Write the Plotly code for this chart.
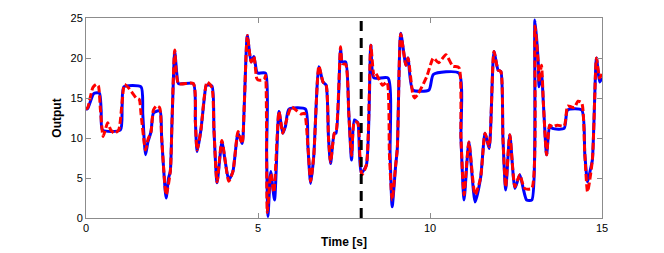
import plotly.graph_objects as go

# Reference signal (blue, solid)
t_ref = [0.0, 0.05, 0.2, 0.25, 0.39, 0.44, 0.48, 1.0, 1.05, 1.1, 1.6, 1.65, 1.73, 1.8, 1.89,
         1.96, 2.1, 2.16, 2.2, 2.33, 2.4, 2.45, 2.5, 2.58, 2.64, 2.69, 3.12, 3.18, 3.23, 3.34,
         3.44, 3.5, 3.66, 3.72, 3.81, 3.95, 4.05, 4.15, 4.27, 4.42, 4.54, 4.6, 4.69, 4.8, 4.88,
         4.96, 5.0, 5.22, 5.25, 5.29, 5.37, 5.48, 5.61, 5.72, 5.8, 5.9, 6.38, 6.45, 6.53, 6.62,
         6.77, 6.89, 6.98, 7.05, 7.11, 7.22, 7.27, 7.4, 7.45, 7.55, 7.64, 7.72, 7.8, 7.9, 7.95,
         8.0, 8.15, 8.28, 8.37, 8.78, 8.84, 8.9, 9.0, 9.05, 9.15, 9.3, 9.36, 9.5, 9.97, 10.1,
         10.84, 10.9, 10.99, 11.13, 11.31, 11.47, 11.6, 11.72, 11.86, 11.98, 12.06, 12.12, 12.2,
         12.32, 12.47, 12.61, 12.72, 12.81, 12.96, 13.05, 13.15, 13.17, 13.24, 13.3, 13.39,
         13.48, 13.56, 13.9, 14.0, 14.41, 14.5, 14.58, 14.66, 14.72, 14.84, 14.93, 15.0]
y_ref = [13.6, 13.7, 15.4, 15.6, 15.6, 13.5, 11.0, 11.0, 14.0, 16.4, 16.4, 13.0, 7.9, 9.5, 10.8,
         13.1, 13.4, 13.3, 10.0, 2.5, 5.0, 5.8, 12.0, 20.8, 18.0, 16.8, 16.8, 12.0, 8.3, 11.0,
         15.0, 16.6, 16.5, 11.0, 4.4, 9.5, 7.0, 4.75, 5.8, 10.6, 9.3, 14.0, 22.8, 19.5, 20.2,
         18.3, 18.1, 18.1, 8.0, 0.2, 5.8, 2.25, 13.3, 10.6, 11.5, 13.6, 13.6, 9.0, 4.3, 7.7,
         18.9, 17.0, 16.6, 10.0, 6.8, 10.6, 10.6, 21.2, 19.5, 19.5, 13.0, 7.25, 12.25, 11.9, 8.0,
         5.6, 6.6, 21.6, 17.5, 17.5, 8.0, 1.4, 6.5, 8.7, 23.1, 19.1, 20.0, 16.0, 16.0, 17.95,
         18.1, 10.0, 2.25, 9.5, 2.0, 5.0, 10.6, 8.7, 20.8, 18.5, 18.3, 10.0, 3.5,
         10.4, 3.7, 5.4, 3.5, 2.25, 2.25, 24.75, 19.1, 16.4, 18.1, 14.0, 7.9,
         11.6, 11.2, 11.2, 13.5, 13.5, 8.0, 4.5, 6.0, 7.25, 20.0, 17.0, 17.5]

# Model output (red, dashed)
t_out = [0.0, 0.05, 0.2, 0.3, 0.36, 0.42, 0.5, 0.63, 0.72, 0.83, 0.95, 1.05, 1.12, 1.25, 1.46,
         1.55, 1.6, 1.73, 1.8, 1.89, 1.96, 2.05, 2.14, 2.2, 2.33, 2.45, 2.5, 2.58, 2.69, 3.12,
         3.18, 3.23, 3.34, 3.44, 3.52, 3.66, 3.72, 3.81, 3.95, 4.15, 4.27, 4.42, 4.54, 4.6, 4.69,
         4.8, 4.88, 4.96, 5.0, 5.18, 5.22, 5.27, 5.37, 5.46, 5.61, 5.72, 5.8, 5.97, 6.1, 6.25,
         6.35, 6.45, 6.53, 6.62, 6.77, 6.89, 6.98, 7.05, 7.11, 7.22, 7.27, 7.4, 7.45, 7.55, 7.64,
         7.72, 7.8, 7.9, 7.96, 8.02, 8.15, 8.28, 8.37, 8.42, 8.62, 8.75, 8.82, 8.9, 9.0, 9.05,
         9.15, 9.3, 9.36, 9.5, 9.55, 9.65, 9.9, 10.1, 10.25, 10.46, 10.66, 10.84, 10.9, 10.99,
         11.13, 11.31, 11.47, 11.6, 11.72, 11.86, 11.98, 12.06, 12.12, 12.2, 12.32, 12.47, 12.61,
         12.75, 12.96, 13.05, 13.15, 13.17, 13.24, 13.3, 13.39, 13.48, 13.56, 13.7, 13.9, 14.0,
         14.1, 14.2, 14.3, 14.41, 14.5, 14.58, 14.72, 14.84, 14.93, 15.0]
y_out = [13.6, 13.8, 16.3, 16.7, 16.5, 13.5, 10.2, 11.9, 11.0, 10.6, 11.0, 14.5, 16.7, 16.2, 15.0,
         14.8, 13.0, 8.5, 9.8, 10.8, 13.5, 14.0, 13.8, 10.0, 2.9, 5.8, 12.0, 21.0, 16.8, 16.8,
         12.0, 8.5, 11.0, 15.2, 17.0, 16.3, 11.0, 4.5, 9.7, 4.6, 5.8, 10.8, 9.3, 14.0, 22.8,
         19.5, 20.2, 17.5, 17.25, 17.3, 17.8, 0.7, 5.5, 3.2, 13.3, 10.6, 11.8, 13.9, 13.5, 13.0,
         13.1, 9.0, 4.6, 7.7, 19.0, 17.0, 16.6, 10.0, 7.0, 10.6, 10.8, 21.4, 19.3, 19.2, 13.0,
         7.8, 12.0, 11.9, 8.0, 5.4, 6.6, 21.6, 17.8, 18.1, 16.6, 17.0, 8.0, 2.25, 6.5, 8.7,
         23.0, 19.1, 20.0, 15.5, 15.0, 15.5, 17.6, 20.0, 19.4, 20.4, 19.0, 18.8, 10.0, 2.9,
         9.5, 2.9, 5.0, 10.6, 8.9, 20.8, 18.5, 18.3, 10.0, 3.9, 10.4, 3.9, 5.4,
         3.7, 3.7, 24.0, 19.1, 17.0, 19.1, 14.0, 7.9, 11.6, 11.4, 11.6, 11.5, 14.0,
         13.9, 13.8, 14.6, 14.4, 8.0, 3.3, 7.25, 20.0, 17.5, 18.0]

switch_t = [8.0, 8.0]
switch_y = [0, 25]

x_ticks = [0, 5, 10, 15]
y_ticks = [0, 5, 10, 15, 20, 25]

fig = go.Figure()
fig.add_trace(go.Scatter(x=t_ref, y=y_ref, mode="lines",
                         line=dict(color="#0000FF", width=3, shape="spline", smoothing=0.6),
                         showlegend=False))
fig.add_trace(go.Scatter(x=t_out, y=y_out, mode="lines",
                         line=dict(color="#FF0000", width=3, dash="7px,3px",
                                   shape="spline", smoothing=0.6),
                         showlegend=False))
fig.add_trace(go.Scatter(x=switch_t, y=switch_y, mode="lines",
                         line=dict(color="#000000", width=3, dash="10px,7px"), showlegend=False))

axis_common = dict(showgrid=False, zeroline=False, showline=True, mirror="ticks",
                   linecolor="#8c8c8c", linewidth=1, ticks="inside", ticklen=5,
                   tickcolor="#8c8c8c", automargin=False,
                   tickfont=dict(family="Liberation Sans, Arial, sans-serif", size=11,
                                 color="#000000"))
fig.update_layout(
    width=664, height=253,
    margin=dict(l=86, r=62, t=18, b=35),
    paper_bgcolor="white", plot_bgcolor="white",
    hovermode=False,
    xaxis=dict(range=[0, 15], tickvals=x_ticks,
               title=dict(text="<b>Time [s]</b>", standoff=4,
                          font=dict(family="Liberation Sans, Arial, sans-serif", size=12,
                                    color="#000000")),
               **axis_common),
    yaxis=dict(range=[0, 25], tickvals=y_ticks,
               title=dict(text="<b>Output</b>", standoff=6,
                          font=dict(family="Liberation Sans, Arial, sans-serif", size=12,
                                    color="#000000")),
               **axis_common),
)
fig.write_html("out.html", config={"displayModeBar": False},
               post_script="document.body.style.margin='0';document.body.style.overflow='hidden';")
